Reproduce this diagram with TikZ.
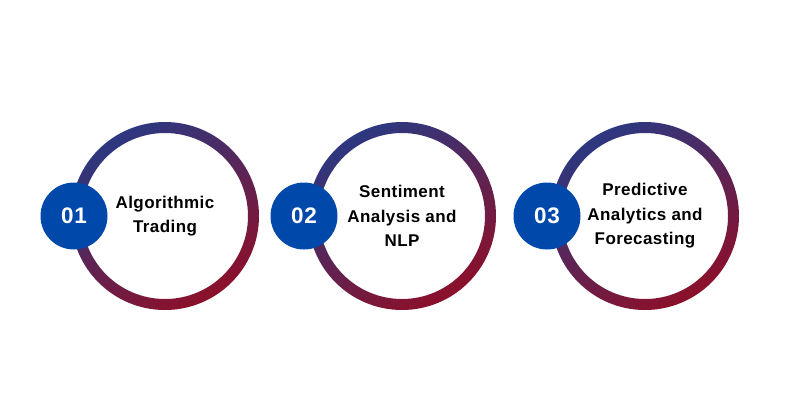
\documentclass[tikz,border=0pt]{standalone}
\usepackage{fontspec}
\setmainfont{Liberation Sans}
\newfontfamily\capfont[LetterSpace=2.5]{Liberation Sans}
\usepackage{tikz}

\definecolor{ringtop}{RGB}{44,56,128}
\definecolor{ringbot}{RGB}{140,16,42}
\definecolor{badgeblue}{RGB}{0,72,170}

\tikzset{
  ring/.style={top color=ringtop, bottom color=ringbot, shading angle=30, even odd rule},
  badge/.style={circle, fill=badgeblue, minimum size=67pt, inner sep=0pt, text=white,
    font=\capfont\bfseries\fontsize{22.5}{22.5}\selectfont},
  caption/.style={align=center, inner sep=0pt, font=\capfont\bfseries\fontsize{17}{24.5}\selectfont}
}

\begin{document}
\begin{tikzpicture}[x=1pt,y=-1pt]
\useasboundingbox (0,0) rectangle (800,400);
\fill[white] (0,0) rectangle (800,400);

% first ring
\shade[ring] (165,216) circle (94pt) (165,216) circle (83pt);
\draw (165,216) node[caption] (algo) {Algorithmic\\Trading} ;
\draw (74,216) node[badge] (one) {01} ;

% second ring
\shade[ring] (402,216) circle (94pt) (402,216) circle (83pt);
\draw (402,216) node[caption] (senti) {Sentiment\\Analysis and\\NLP} ;
\draw (304,216) node[badge] (two) {02} ;

% third ring
\shade[ring] (645,216) circle (94pt) (645,216) circle (83pt);
\draw (645,216) node[caption] (pred) {Predictive\\Analytics and\\Forecasting} ;
\draw (547,216) node[badge] (three) {03} ;

\end{tikzpicture}
\end{document}
